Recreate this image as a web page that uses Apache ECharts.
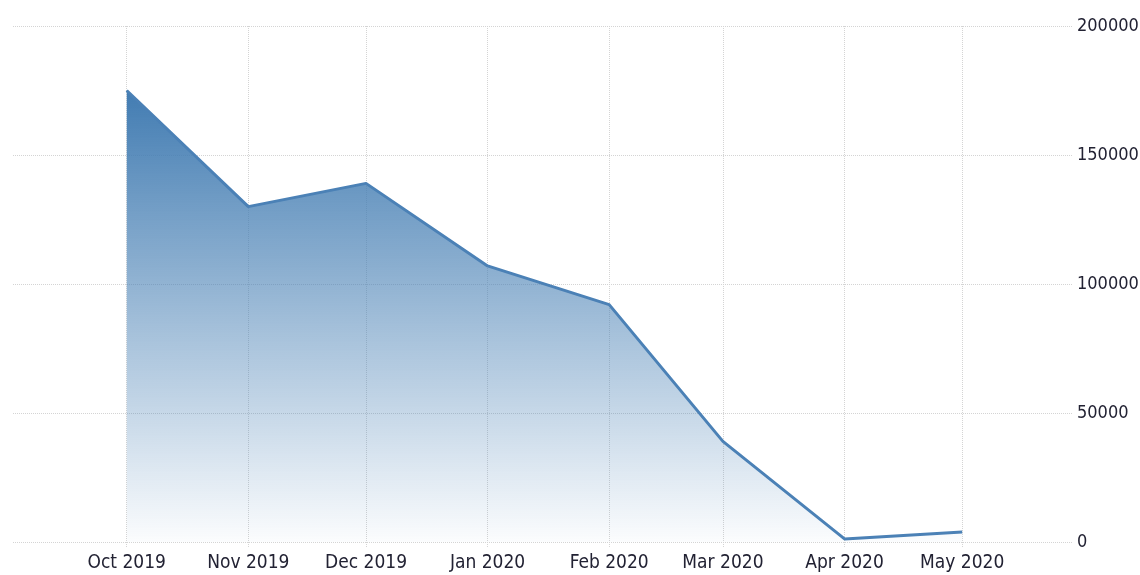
<!DOCTYPE html>
<html>
<head>
<meta charset="utf-8">
<script src="https://cdn.jsdelivr.net/npm/echarts@6/dist/echarts.min.js"></script>
<style>
html,body{margin:0;padding:0;background:#fff;}
#c{width:1140px;height:575px;}
</style>
</head>
<body>
<div id="c"></div>
<script>
const dates = ['2019-10-01','2019-11-01','2019-12-01','2020-01-01','2020-02-01','2020-03-01','2020-04-01','2020-05-01'];
const values = [175000, 130000, 139000, 107000, 92000, 39000, 1200, 3900];
const yTicks = [0, 50000, 100000, 150000, 200000];
const monthNames = ['Jan','Feb','Mar','Apr','May','Jun','Jul','Aug','Sep','Oct','Nov','Dec'];

const FONT = '"DejaVu Sans Condensed","DejaVu Sans",sans-serif';
const GRID_COLOR = '#d4d4d4';
const chart = echarts.init(document.getElementById('c'), null, {renderer:'canvas'});
const DAY = 86400000;
chart.setOption({
  animation:false,
  grid:{left:13, right:68, top:26, bottom:33, containLabel:false, outerBoundsMode:'none'},
  xAxis:{
    type:'time',
    min: new Date(2019,8,2).getTime(),
    max: new Date(2020,4,29).getTime(),
    minInterval: 28*DAY,
    maxInterval: 31*DAY,
    axisLine:{show:false},
    axisTick:{show:true, length:6, lineStyle:{color:GRID_COLOR, type:'dotted', width:1}},
    splitLine:{show:true, showMinLine:false, showMaxLine:false, lineStyle:{color:GRID_COLOR, type:'dotted', width:1}},
    axisLabel:{
      color:'#222233', fontSize:19, fontFamily:FONT, margin:12,
      hideOverlap:false, showMinLabel:false, showMaxLabel:false,
      formatter: function(v){ const d=new Date(v); return monthNames[d.getMonth()]+' '+d.getFullYear(); }
    }
  },
  yAxis:{
    type:'value', position:'right', min:yTicks[0], max:yTicks[yTicks.length-1], interval:50000,
    axisLine:{show:false}, axisTick:{show:false},
    splitLine:{show:true, lineStyle:{color:GRID_COLOR, type:'dotted', width:1}},
    axisLabel:{color:'#222233', fontSize:18, fontFamily:FONT, margin:5, align:'left',
      formatter:function(v){return String(v);}}
  },
  series:[{
    type:'line',
    data: dates.map((d,i)=>{const p=d.split('-'); return [new Date(+p[0], +p[1]-1, +p[2]).getTime(), values[i]];}),
    showSymbol:false, symbol:'none',
    lineStyle:{color:'#4b81b6', width:3},
    areaStyle:{opacity:1, color:new echarts.graphic.LinearGradient(0,0,0,1,[
      {offset:0, color:'rgba(66,124,178,1)'},
      {offset:1, color:'rgba(66,124,178,0.02)'}
    ])}
  }]
});
</script>
</body>
</html>
